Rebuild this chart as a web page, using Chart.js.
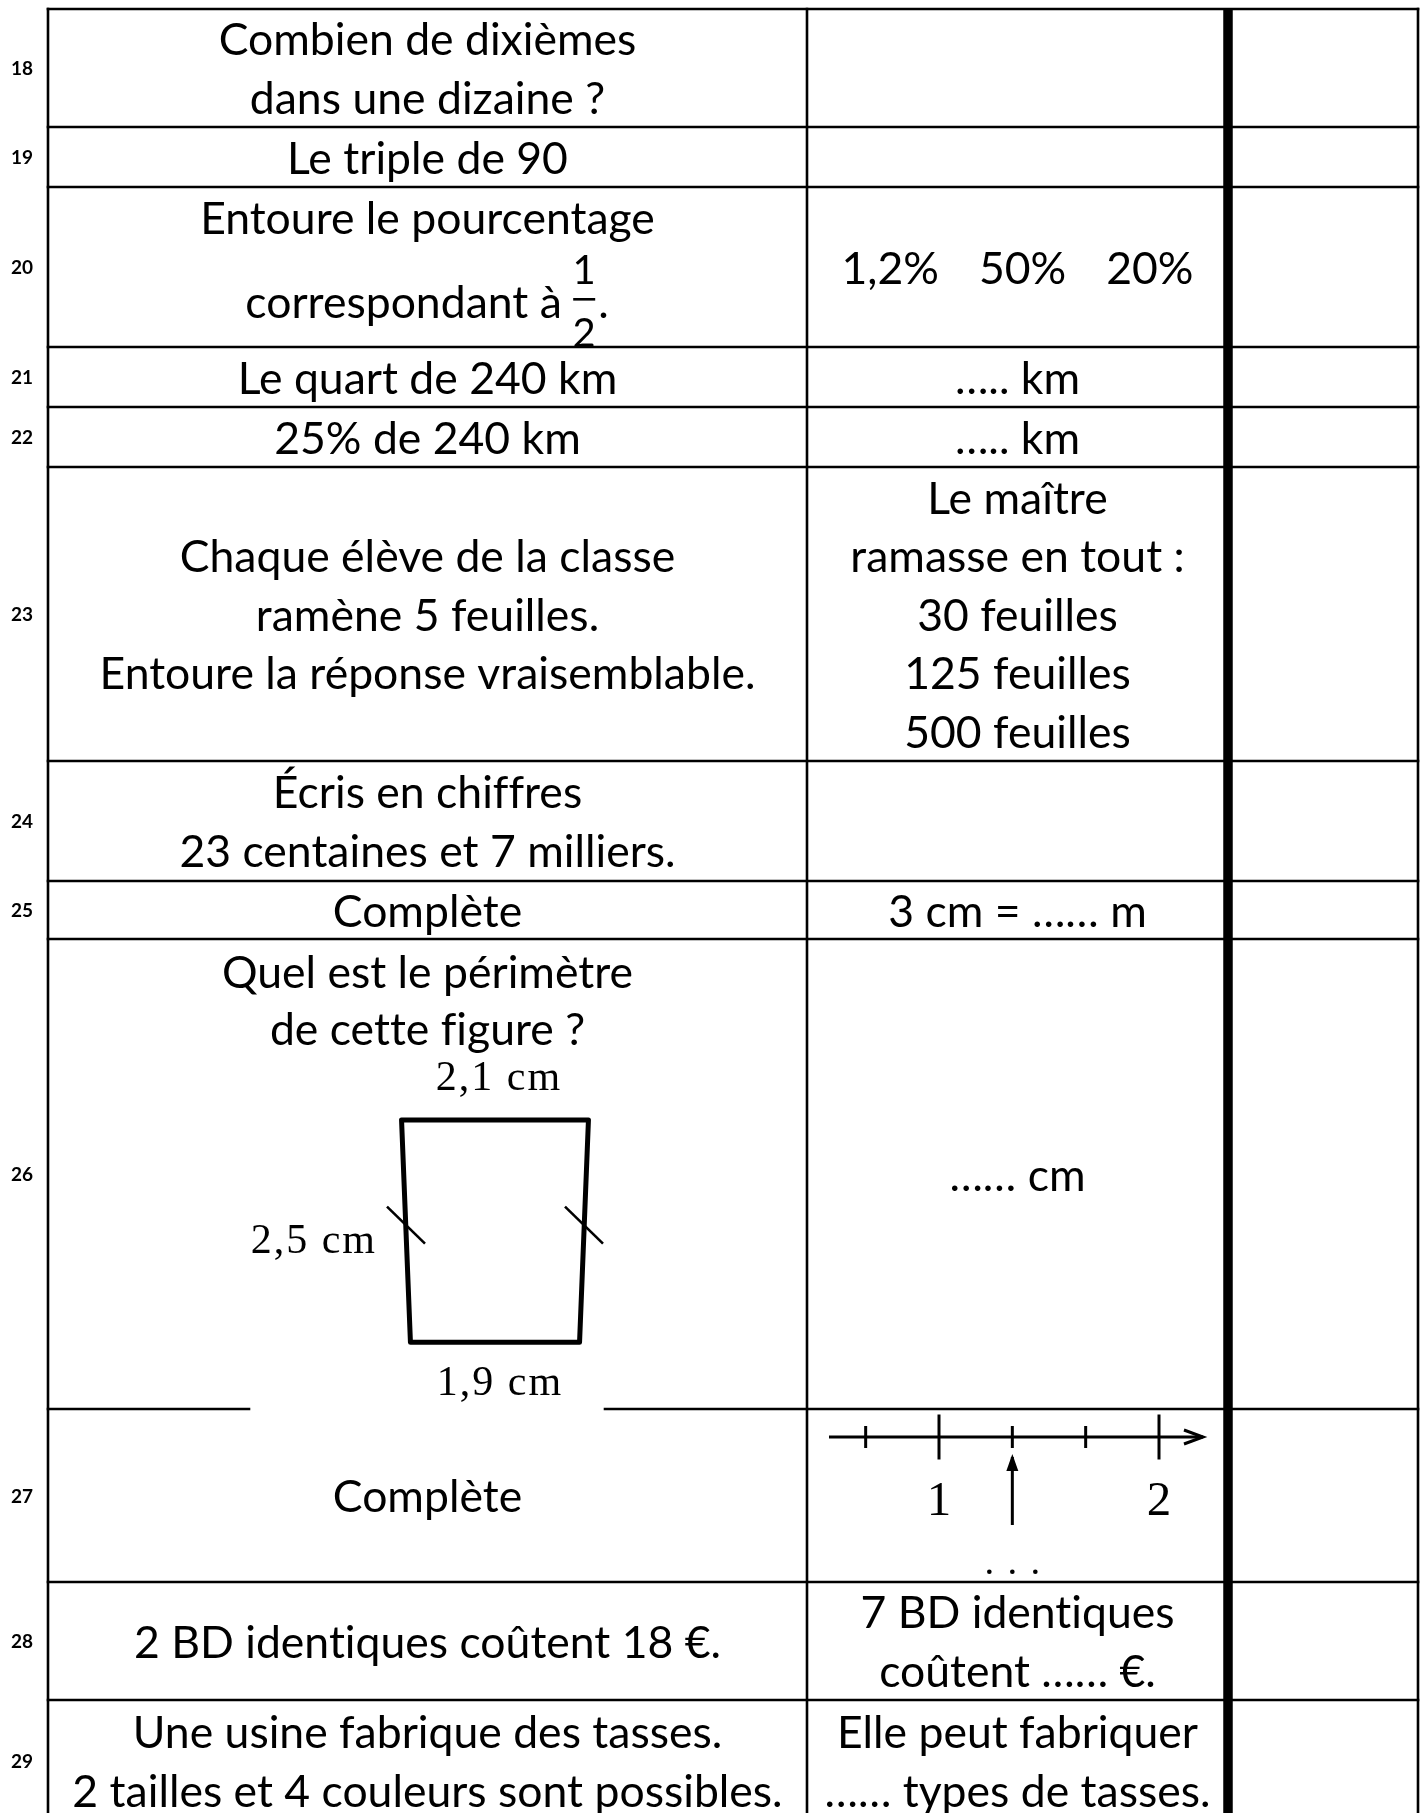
<!DOCTYPE html>
<html><head><meta charset="utf-8">
<script src="https://cdn.jsdelivr.net/npm/chart.js@4.4.1/dist/chart.umd.min.js"></script>
<style>html,body{margin:0;padding:0;background:#fff;}canvas{display:block;}</style>
</head><body>
<canvas id="c" width="1426" height="1813"></canvas>
<script>
// ---------- data ----------
const rowNumbers = [18,19,20,21,22,23,24,25,26,27,28,29];
const rowEdges = [9,127,187,347,407,467,761,881,939,1409,1582,1700,1822];
const colEdges = [48,807,1228,1418];
const questions = [
  ['Combien de dixièmes','dans une dizaine ?'],
  ['Le triple de 90'],
  ['Entoure le pourcentage','correspondant à'],
  ['Le quart de 240 km'],
  ['25% de 240 km'],
  ['Chaque élève de la classe','ramène 5 feuilles.','Entoure la réponse vraisemblable.'],
  ['Écris en chiffres','23 centaines et 7 milliers.'],
  ['Complète'],
  ['Quel est le périmètre','de cette figure ?'],
  ['Complète'],
  ['2 BD identiques coûtent 18 €.'],
  ['Une usine fabrique des tasses.','2 tailles et 4 couleurs sont possibles.']
];
const answers = [
  [], [], [], ['….. km'], ['….. km'],
  ['Le maître','ramasse en tout :','30 feuilles','125 feuilles','500 feuilles'],
  [], ['3 cm = …… m'], ['…… cm'], [], ['7 BD identiques','coûtent …… €.'],
  ['Elle peut fabriquer','…… types de tasses.']
];
const percentChoices = ['1,2%','50%','20%'];
const fractionParts = ['1','2'];
const figureSides = [2.1, 2.5, 1.9];          // top, slanted sides, bottom (cm)
const figureLabels = ['2,1 cm','2,5 cm','1,9 cm'];
const numberLineRange = [0.5, 2.2];
const numberLineTicks = [2/3, 1, 4/3, 5/3, 2];
const numberLineLabels = [1, 2];
const numberLineQuery = [4/3];

// ---------- layout / style ----------
const W = 1426, H = 1813;
const FONT = 'Lato, "Open Sans", sans-serif';
const FS = 44.5, LINE_H = 58.5, BASE_OFF = 15;
const FIG_CX = 495, FIG_TOP = 1120, PX_PER_CM = 89;
const NL_ONE = 939, PX_PER_UNIT = 220, NL_Y = 1437;
const FIGURE_BOX = [249, 605];
const THIN = 2.6, THICK = 9.5;

// ---------- datasets ----------
const datasets = [];
function seg(points, width, xa, ya, extra) {
  datasets.push(Object.assign({
    data: points, showLine: true, borderColor: '#000', backgroundColor: '#000',
    borderWidth: width, pointRadius: 0, borderCapStyle: 'square',
    xAxisID: xa || 'x', yAxisID: ya || 'y'
  }, extra || {}));
}
const x0 = colEdges[0], x3 = colEdges[colEdges.length-1];
rowEdges.forEach((e, i) => {
  if (i === 9) {
    seg([{x:x0,y:e},{x:FIGURE_BOX[0],y:e}], THIN);
    seg([{x:FIGURE_BOX[1],y:e},{x:x3,y:e}], THIN);
  } else {
    seg([{x:x0,y:e},{x:x3,y:e}], THIN);
  }
});
colEdges.forEach((c, j) => {
  seg([{x:c,y:rowEdges[0]},{x:c,y:rowEdges[rowEdges.length-1]}], j === 2 ? THICK : THIN,
      'x', 'y', {borderCapStyle: j === 2 ? 'butt' : 'square'});
});
// trapezoid (cm units)
const topW = figureSides[0], botW = figureSides[2], side = figureSides[1];
const figH = Math.sqrt(side*side - Math.pow((topW-botW)/2, 2));
seg([{x:-topW/2,y:0},{x:topW/2,y:0},{x:botW/2,y:figH},{x:-botW/2,y:figH},{x:-topW/2,y:0}],
    5, 'fx', 'fy', {borderJoinStyle:'round', borderCapStyle:'round'});
// number line
seg([{x:numberLineRange[0],y:NL_Y},{x:numberLineRange[1],y:NL_Y}], 3, 'nx', 'y', {borderCapStyle:'butt'});
datasets.push({
  data: numberLineTicks.map(v => ({x:v, y:NL_Y})),
  showLine: false, xAxisID: 'nx', yAxisID: 'y',
  pointStyle: 'line', rotation: 90,
  pointRadius: numberLineTicks.map(v => numberLineLabels.some(l => Math.abs(l - v) < 1e-9) ? 22.5 : 11),
  borderColor: '#000', borderWidth: 3
});

// ---------- text / decoration plugin ----------
function txt(ctx, t, x, y, align) {
  ctx.textAlign = align;
  ctx.fillText(t, x, y);
  return ctx.measureText(t).width;
}
const deco = {
  id: 'deco',
  afterDatasetsDraw(chart) {
    const ctx = chart.ctx, S = chart.scales;
    const X = v => S.x.getPixelForValue(v), Y = v => S.y.getPixelForValue(v);
    ctx.save();
    ctx.fillStyle = '#000'; ctx.strokeStyle = '#000';
    ctx.textBaseline = 'alphabetic';
    ctx.letterSpacing = '0.01px'; // disables ligatures
    // row numbers
    ctx.font = 'bold 19px ' + FONT;
    rowNumbers.forEach((n, i) => {
      const cy = (Y(rowEdges[i]) + Y(rowEdges[i+1])) / 2;
      txt(ctx, String(n), X(colEdges[0]) / 2 - 2, cy + 7, 'center');
    });
    ctx.font = FS + 'px ' + FONT;
    const cell = (lines, c0, c1, i) => {
      if (!lines.length) return;
      const cx = (X(c0) + X(c1)) / 2;
      const cy = (Y(rowEdges[i]) + Y(rowEdges[i+1])) / 2;
      const first = cy - (lines.length - 1) * LINE_H / 2 + 1.5;
      lines.forEach((t, k) => txt(ctx, t, cx, first + k * LINE_H + BASE_OFF, 'center'));
    };
    questions.forEach((q, i) => {
      const cx = (X(colEdges[0]) + X(colEdges[1])) / 2;
      const top = Y(rowEdges[i]);
      if (i === 2) {
        txt(ctx, q[0], cx, top + 31.6 + BASE_OFF, 'center');
        // second line with fraction 1/2
        const t2 = q[1] + ' ';
        const wT = ctx.measureText(t2).width, wF = 22, wD = ctx.measureText('.').width;
        const sx = cx - (wT + wF + 4 + wD) / 2, base = top + 131;
        txt(ctx, t2, sx, base, 'left');
        txt(ctx, '.', sx + wT + wF + 3, base, 'left');
        ctx.fillRect(sx + wT, base - 20, wF, 2.6);
        ctx.font = '40px ' + FONT;
        txt(ctx, fractionParts[0], sx + wT + wF/2, base - 34, 'center');
        txt(ctx, fractionParts[1], sx + wT + wF/2, base + 29, 'center');
        ctx.font = FS + 'px ' + FONT;
      } else if (i === 8) {
        q.forEach((t, k) => txt(ctx, t, cx, top + 34 + k * 57 + BASE_OFF, 'center'));
      } else {
        cell(q, colEdges[0], colEdges[1], i);
      }
    });
    answers.forEach((a, i) => cell(a, colEdges[1], colEdges[2], i));
    // percentage choices (row 20)
    {
      const gap = 40, ws = percentChoices.map(t => ctx.measureText(t).width);
      const tot = ws.reduce((s, w) => s + w, 0) + gap * (ws.length - 1);
      let sx = (X(colEdges[1]) + X(colEdges[2])) / 2 - tot / 2;
      const cy = (Y(rowEdges[2]) + Y(rowEdges[3])) / 2;
      percentChoices.forEach((t, k) => { txt(ctx, t, sx, cy + 2 + BASE_OFF, 'left'); sx += ws[k] + gap; });
    }
    // figure: tick marks and labels
    const FX = v => S.fx.getPixelForValue(v), FY = v => S.fy.getPixelForValue(v);
    ctx.lineWidth = 2.6; ctx.lineCap = 'butt';
    [-1, 1].forEach(sgn => {
      const mx = FX(sgn * (topW + botW) / 4), my = FY(figH / 2) - 6;
      ctx.beginPath(); ctx.moveTo(mx - 19, my - 18.5); ctx.lineTo(mx + 19, my + 18.5); ctx.stroke();
    });
    ctx.font = '42px "Liberation Serif", "DejaVu Serif", serif';
    ctx.letterSpacing = '2px';
    txt(ctx, figureLabels[0], FX(0) + 4, FY(0) - 30, 'center');
    txt(ctx, figureLabels[2], FX(0) + 5, FY(figH) + 53, 'center');
    txt(ctx, figureLabels[1], FX(-(topW + botW) / 4) - 29, FY(figH / 2) + 22, 'right');
    ctx.letterSpacing = '0px';
    // number line: end arrow, labels, query arrow, dots
    const NX = v => S.nx.getPixelForValue(v);
    const ex = NX(numberLineRange[1]), ny = Y(NL_Y);
    ctx.lineWidth = 3; ctx.lineJoin = 'miter';
    ctx.beginPath(); ctx.moveTo(ex - 19, ny - 7); ctx.lineTo(ex, ny); ctx.lineTo(ex - 19, ny + 7); ctx.stroke();
    ctx.font = '49px "Liberation Serif", "DejaVu Serif", serif';
    numberLineLabels.forEach(v => txt(ctx, String(v), NX(v), ny + 78, 'center'));
    numberLineQuery.forEach(v => {
      const qx = NX(v);
      ctx.lineWidth = 3;
      ctx.beginPath(); ctx.moveTo(qx, ny + 88); ctx.lineTo(qx, ny + 20); ctx.stroke();
      ctx.beginPath(); ctx.moveTo(qx - 6, ny + 34); ctx.lineTo(qx, ny + 17); ctx.lineTo(qx + 6, ny + 34); ctx.closePath(); ctx.fill();
      [-23, 0, 23].forEach(d => { ctx.beginPath(); ctx.arc(qx + d, ny + 134.7, 2.3, 0, Math.PI * 2); ctx.fill(); });
    });
    ctx.restore();
  }
};

new Chart(document.getElementById('c'), {
  type: 'scatter',
  data: { datasets },
  options: {
    responsive: false, animation: false, devicePixelRatio: 1, events: [],
    layout: { padding: 0, autoPadding: false },
    plugins: { legend: { display: false }, tooltip: { enabled: false }, title: { display: false } },
    scales: {
      x:  { type: 'linear', display: false, min: 0, max: W },
      y:  { type: 'linear', display: false, min: 0, max: H, reverse: true },
      fx: { type: 'linear', axis: 'x', display: false, min: -FIG_CX / PX_PER_CM, max: (W - FIG_CX) / PX_PER_CM },
      fy: { type: 'linear', axis: 'y', display: false, min: -FIG_TOP / PX_PER_CM, max: (H - FIG_TOP) / PX_PER_CM, reverse: true },
      nx: { type: 'linear', axis: 'x', display: false, min: 1 - NL_ONE / PX_PER_UNIT, max: 1 + (W - NL_ONE) / PX_PER_UNIT }
    }
  },
  plugins: [deco]
});
</script>
</body></html>
